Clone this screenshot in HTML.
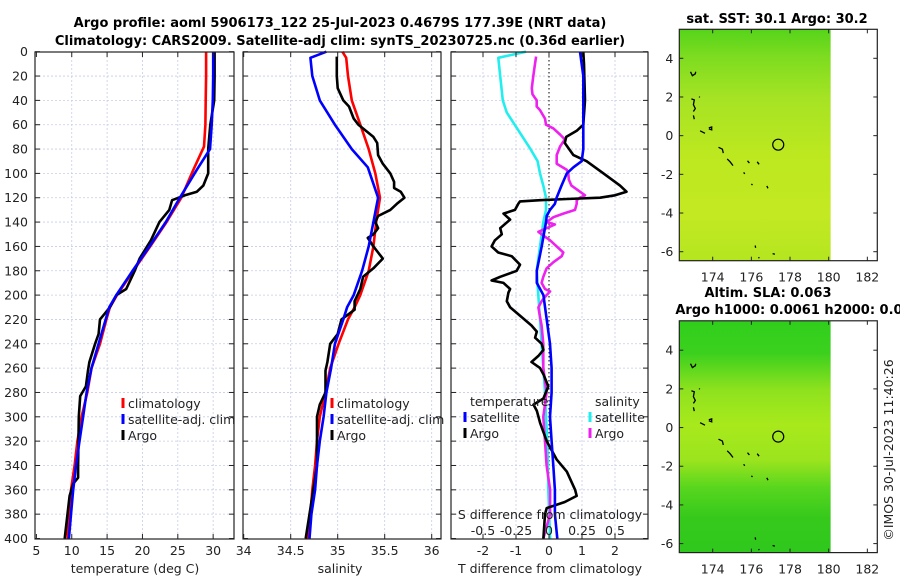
<!DOCTYPE html>
<html><head><meta charset="utf-8">
<style>
html,body{margin:0;padding:0;background:#fff;}
svg{display:block;font-family:"DejaVu Sans","Liberation Sans",sans-serif;}
.t{font-size:12.5px;fill:#222;}
.ttl{font-size:13px;font-weight:bold;fill:#000;}
</style></head>
<body>
<svg id="chart" width="900" height="580" viewBox="0 0 900 580">
<defs>
<linearGradient id="sstGrad" x1="0" y1="0" x2="0" y2="1">
<stop offset="0" stop-color="#55d41a"/><stop offset="0.12" stop-color="#7edc20"/><stop offset="0.3" stop-color="#a6e324"/><stop offset="0.55" stop-color="#bde81f"/><stop offset="0.8" stop-color="#c3e922"/><stop offset="1" stop-color="#b4e620"/>
</linearGradient>
<linearGradient id="slaGrad" x1="0" y1="0" x2="0" y2="1">
<stop offset="0" stop-color="#2fcf1c"/><stop offset="0.14" stop-color="#3cd01e"/><stop offset="0.3" stop-color="#8fe21e"/><stop offset="0.45" stop-color="#a8e91c"/><stop offset="0.6" stop-color="#9ce41e"/><stop offset="0.72" stop-color="#58d61e"/><stop offset="0.85" stop-color="#36c91c"/><stop offset="1" stop-color="#2fc81c"/>
</linearGradient>
</defs>
<text class="ttl" x="340" y="27" text-anchor="middle">Argo profile: aoml 5906173_122 25-Jul-2023 0.4679S 177.39E (NRT data)</text>
<text class="ttl" x="340" y="45" text-anchor="middle">Climatology: CARS2009. Satellite-adj clim: synTS_20230725.nc (0.36d earlier)</text>
<g id="plots"></g>
</svg>
<script>
// ---------- data ----------
const depthTicks = [0,20,40,60,80,100,120,140,160,180,200,220,240,260,280,300,320,340,360,380,400];
const tempTicks = [5,10,15,20,25,30];
const salTicks = [34,34.5,35,35.5,36];
const tdiffTicks = [-2,-1,0,1,2];
const sdiffTicks = [-0.5,-0.25,0,0.25,0.5];
const sdiffLabels = ["-0.5","-0.25","0","0.25","0.5"];

const climTdepth = [0,20,40,60,78,97,120,140,160,180,200,210,220,240,260,280,300,320,340,360,380,400];
const climTvals  = [29.0,29.0,28.95,28.9,28.7,27.2,25.5,23.4,21.1,18.7,16.4,15.4,14.9,14.0,12.8,12.2,11.4,10.8,10.4,9.9,9.6,9.4];
const satTdepth = [0,20,40,60,80,97,120,140,160,180,200,210,220,240,260,280,300,320,340,360,380,400];
const satTvals  = [30.0,30.0,29.95,29.8,29.55,27.7,25.3,23.3,21.0,18.6,16.3,15.3,14.8,13.8,12.8,12.1,11.6,11.1,10.6,10.2,9.9,9.6];
const argoTdepth = [0,20,40,60,80,100,110,115,118,122,130,140,155,170,180,195,200,210,220,232,240,255,262,275,283,300,340,350,355,365,380,400];
const argoTvals  = [30.2,30.2,30.15,29.6,29.3,29.3,28.6,27.7,26.0,24.2,23.8,22.4,21.2,19.6,18.9,17.7,16.3,15.4,14.0,13.8,13.3,12.5,12.3,12.0,11.2,11.0,10.9,10.9,10.2,9.7,9.4,9.0];

const climSdepth = [0,5,20,40,60,80,100,120,140,160,180,200,210,220,240,260,280,300,320,340,360,380,400];
const climSvals  = [35.05,35.09,35.11,35.15,35.24,35.33,35.40,35.45,35.41,35.38,35.33,35.24,35.18,35.11,35.01,34.92,34.87,34.81,34.78,34.76,34.73,34.71,34.68];
const satSdepth = [0,5,20,40,60,80,95,120,140,160,180,200,210,220,240,260,280,300,320,340,360,380,400];
const satSvals  = [34.88,34.71,34.73,34.81,34.97,35.15,35.32,35.43,35.38,35.33,35.26,35.17,35.10,35.06,34.97,34.93,34.88,34.85,34.81,34.78,34.76,34.72,34.70];
const argoSdepth = [4,20,30,40,45,55,60,70,75,85,92,100,107,112,115,120,125,130,135,140,145,150,153,160,165,170,178,185,195,205,212,220,232,240,255,262,280,290,300,340,360,380,400];
const argoSvals  = [34.99,34.99,35.0,35.06,35.12,35.17,35.22,35.38,35.42,35.43,35.48,35.56,35.6,35.6,35.67,35.71,35.63,35.56,35.43,35.4,35.43,35.38,35.32,35.38,35.43,35.48,35.38,35.27,35.24,35.18,35.18,35.04,35.0,34.92,34.89,34.87,34.87,34.81,34.78,34.78,34.74,34.70,34.66];

const satDTdepth = [0,20,60,80,90,95,100,110,120,125,130,135,140,160,180,190,200,220,240,260,280,300,320,340,360,380,400];
const satDTvals  = [0.94,1.04,1.04,1.04,0.99,0.74,0.54,0.38,0.23,0.18,0.03,-0.07,-0.09,-0.22,-0.37,-0.37,-0.17,-0.07,0.03,0.08,0.08,0.03,0.08,0.13,0.18,0.18,0.25];
const argoDTdepth = [0,10,40,60,65,70,75,85,90,100,110,115,118,120,121,122,123,125,130,133,138,145,150,155,160,165,168,175,180,185,188,190,195,198,205,210,225,230,235,240,245,250,255,260,265,275,285,290,295,305,320,335,345,360,365,370,375,380,400];
const argoDTvals  = [1.04,1.06,1.09,1.04,0.84,0.52,0.48,0.74,1.14,1.65,2.15,2.35,2.0,1.55,0.54,-0.27,-0.88,-0.93,-1.03,-1.38,-1.18,-1.48,-1.43,-1.64,-1.74,-1.54,-1.13,-0.88,-0.98,-1.48,-1.74,-1.38,-1.18,-1.23,-1.28,-1.18,-0.53,-0.37,-0.42,-0.22,-0.17,-0.32,-0.53,-0.27,-0.17,-0.02,-0.17,-0.47,-0.37,-0.27,-0.07,0.23,0.54,0.79,0.84,0.48,-0.07,-0.12,-0.17];
const satDSdepth = [0,5,20,40,50,60,80,90,100,110,120,130,140,160,180,200,220,240,260,280,300,320,360,400];
const satDSvals  = [-0.174,-0.384,-0.37,-0.35,-0.32,-0.26,-0.14,-0.086,-0.068,-0.043,-0.023,-0.023,-0.043,-0.068,-0.093,-0.081,-0.068,-0.056,-0.043,-0.03,-0.023,-0.013,-0.005,0.008];
const argoDSdepth = [4,10,20,30,35,40,45,48,55,60,63,68,72,78,85,92,97,100,105,110,115,118,120,122,125,130,133,136,140,142,145,148,150,155,160,165,168,173,178,185,190,195,197,200,205,210,215,225,240,260,280,300,320,340,360,380,400];
const argoDSvals  = [-0.098,-0.106,-0.119,-0.13,-0.125,-0.093,-0.093,-0.068,-0.03,-0.023,0.033,0.083,0.12,0.083,0.058,0.058,0.134,0.146,0.15,0.17,0.235,0.273,0.235,0.21,0.21,0.197,0.108,0.033,-0.018,0.045,-0.018,-0.08,-0.056,0.008,0.058,0.108,0.096,0.033,-0.018,-0.043,-0.056,-0.03,0.008,-0.018,-0.056,-0.08,-0.073,-0.056,-0.043,-0.043,-0.018,-0.043,-0.03,-0.018,0.008,0.008,-0.043];

const lonTicks = [174,176,178,180,182];
const latTicks = [4,2,0,-2,-4,-6];
const argoLon = 177.39, argoLat = -0.4679;
const coastLines = [
 [[172.85,3.3],[172.95,3.1],[173.1,3.2],[173.12,3.3]],
 [[172.9,1.9],[173.05,1.85],[173.0,1.6],[173.1,1.4],[173.0,1.25]],
 [[173.0,1.05],[173.05,0.85]],
 [[173.3,2.02],[173.33,1.98]],
 [[173.35,0.25],[173.6,0.12]],
 [[173.8,0.4],[173.95,0.45],[173.95,0.3],[173.8,0.35]],
 [[174.3,-0.6],[174.5,-0.7],[174.55,-0.9]],
 [[174.75,-1.2],[174.9,-1.35],[175.05,-1.55]],
 [[175.8,-1.3],[175.9,-1.42]],
 [[176.3,-1.35],[176.4,-1.48]],
 [[175.6,-1.9],[175.66,-1.97]],
 [[176.0,-2.5],[176.06,-2.55]],
 [[176.8,-2.6],[176.86,-2.72]],
 [[176.2,-5.68],[176.22,-5.8]],
 [[176.38,-6.28],[176.4,-6.34]],
 [[177.1,-6.1],[177.22,-6.13]]
];

// ---------- helpers ----------
const NS = "http://www.w3.org/2000/svg";
const root = document.getElementById('plots');
function mk(tag, attrs, parent){ const e=document.createElementNS(NS,tag); for(const k in attrs) e.setAttribute(k,attrs[k]); (parent||root).appendChild(e); return e; }
const TOP=52, BOT=539;
const yD = d => 51.7 + d*1.217;

function panel(name, x0, x1, xs, xTicks, xLabels, gridTicks){
  const g = mk('g',{});
  
  
  // grid
  gridTicks.forEach(v=>{ const x=xs(v); const l=mk('line',{x1:x,x2:x,y1:TOP,y2:BOT,stroke:'#c5cde6','stroke-width':0.8,'stroke-dasharray':'2,2'},g);
      });
  depthTicks.forEach(d=>{ if(d===0||d===400) return; const y=yD(d); const l=mk('line',{x1:x0,x2:x1,y1:y,y2:y,stroke:'#c5cde6','stroke-width':0.8,'stroke-dasharray':'2,2'},g);
      });
  return g;
}
function frame(g, x0, x1, xs, xTicks, xLabels, showY){
  const r=mk('rect',{x:x0,y:TOP,width:x1-x0,height:BOT-TOP,fill:'none',stroke:'#222','stroke-width':1.2},g);
   
  depthTicks.forEach(d=>{ const y=yD(d);
    mk('line',{x1:x0,x2:x0+5,y1:y,y2:y,stroke:'#222'},g); mk('line',{x1:x1-5,x2:x1,y1:y,y2:y,stroke:'#222'},g);
    if(showY){ const t=mk('text',{x:x0-7,y:y+4.5,'text-anchor':'end',class:'t'},g); t.textContent=d;
        }
  });
  xTicks.forEach((v,i)=>{ const x=xs(v);
    mk('line',{x1:x,x2:x,y1:TOP,y2:TOP+5,stroke:'#222'},g); mk('line',{x1:x,x2:x,y1:BOT-5,y2:BOT,stroke:'#222'},g);
    const t=mk('text',{x:x,y:555,'text-anchor':'middle',class:'t'},g); t.textContent=xLabels[i];
      });
}
function line(g, depths, vals, xs, color, name, w){
  const pts = depths.map((d,i)=> xs(vals[i]).toFixed(1)+','+yD(d).toFixed(1)).join(' ');
  const p=mk('polyline',{points:pts,fill:'none',stroke:color,'stroke-width':w||2.6,'stroke-linejoin':'round'},g);
  
  
}
function txt(g, x, y, s, name, anchor, cls){
  const t=mk('text',{x:x,y:y,'text-anchor':anchor||'start',class:cls||'t'},g); t.textContent=s;
  
  
  return t;
}
function legendMark(g,x,y,color){ const l=mk('line',{x1:x,x2:x,y1:y-10,y2:y,stroke:color,'stroke-width':3},g);
    }

// ---------- panel 1: temperature ----------
const xT = v => 36.4 + (v-5)*7.07;
const g1 = panel('temperature-panel',35,234,xT,tempTicks,null,[10,15,20,25,30]);
line(g1, climTdepth, climTvals, xT, '#ff0000', 'climatology-temperature-line');
line(g1, argoTdepth, argoTvals, xT, '#000000', 'argo-temperature-line');
line(g1, satTdepth, satTvals, xT, '#0000ff', 'satellite-temperature-line');
frame(g1,35,234,xT,tempTicks,tempTicks.map(String),true);
txt(g1,135,573,'temperature (deg C)','x-axis-title-temperature','middle');
legendMark(g1,123,408,'#ff0000'); txt(g1,128,408,'climatology','legend-climatology');
legendMark(g1,123,424,'#0000ff'); txt(g1,128,424,'satellite-adj. clim','legend-satellite-adj');
legendMark(g1,123,440,'#000000'); txt(g1,128,440,'Argo','legend-argo');

// ---------- panel 2: salinity ----------
const xS = v => 243.7 + (v-34)*94;
const g2 = panel('salinity-panel',243,441,xS,salTicks,null,[34.5,35,35.5,36]);
line(g2, climSdepth, climSvals, xS, '#ff0000', 'climatology-salinity-line');
line(g2, argoSdepth, argoSvals, xS, '#000000', 'argo-salinity-line');
line(g2, satSdepth, satSvals, xS, '#0000ff', 'satellite-salinity-line');
frame(g2,243,441,xS,salTicks,salTicks.map(String),false);
txt(g2,340,573,'salinity','x-axis-title-salinity','middle');
legendMark(g2,332,408,'#ff0000'); txt(g2,337,408,'climatology','legend-climatology-2');
legendMark(g2,332,424,'#0000ff'); txt(g2,337,424,'satellite-adj. clim','legend-satellite-adj-2');
legendMark(g2,332,440,'#000000'); txt(g2,337,440,'Argo','legend-argo-2');

// ---------- panel 3: differences ----------
const xDT = v => 549 + v*33;
const xDS = v => 549 + v*132;
const g3 = panel('difference-panel',451,648,xDT,tdiffTicks,null,[-2,-1,1,2]);
const z=mk('line',{x1:549,x2:549,y1:TOP,y2:BOT,stroke:'#000','stroke-width':1,'stroke-dasharray':'1.5,2.5'},g3);
 
line(g3, satDSdepth, satDSvals, xDS, '#22eeee', 'satellite-salinity-diff-line');
line(g3, argoDSdepth, argoDSvals, xDS, '#ee22ee', 'argo-salinity-diff-line');
line(g3, argoDTdepth, argoDTvals, xDT, '#000000', 'argo-temperature-diff-line');
line(g3, satDTdepth, satDTvals, xDT, '#0000ff', 'satellite-temperature-diff-line');
frame(g3,451,648,xDT,tdiffTicks,tdiffTicks.map(String),false);
txt(g3,550,573,'T difference from climatology','x-axis-title-tdiff','middle');
txt(g3,470,406,'temperature','legend-temperature-heading');
txt(g3,595,406,'salinity','legend-salinity-heading');
legendMark(g3,465,422,'#0000ff'); txt(g3,470,422,'satellite','legend-temp-satellite');
legendMark(g3,465,438,'#000000'); txt(g3,470,438,'Argo','legend-temp-argo');
legendMark(g3,590,422,'#22eeee'); txt(g3,595,422,'satellite','legend-sal-satellite');
legendMark(g3,590,438,'#ee22ee'); txt(g3,595,438,'Argo','legend-sal-argo');
txt(g3,550,519,'S difference from climatology','s-axis-title','middle');
sdiffTicks.forEach((v,i)=>{ txt(g3,xDS(v),535,sdiffLabels[i],'s-tick-label','middle'); });

// ---------- maps ----------
function map(name, top, bottom, lat4y, fill, titles){
  const g = mk('g',{});
  
  
  const L=679.3,R=877.3;
  const mx = lon => 712.7 + (lon-174)*19.33;
  const my = lat => lat4y + (4-lat)*19.34;
  const bg=mk('rect',{x:L,y:top,width:mx(180.1)-L,height:bottom-top,fill:fill},g);
   
  coastLines.forEach(seg=>{ const p=mk('polyline',{points:seg.map(q=>mx(q[0]).toFixed(1)+','+my(q[1]).toFixed(1)).join(' '),fill:'none',stroke:'#000','stroke-width':1.3},g);
      });
  const c=mk('circle',{cx:mx(argoLon),cy:my(argoLat),r:5.5,fill:'none',stroke:'#000','stroke-width':1.2},g);
   
  const fr=mk('rect',{x:L,y:top,width:R-L,height:bottom-top,fill:'none',stroke:'#222','stroke-width':1.2},g);
   
  lonTicks.forEach(v=>{ const x=mx(v);
    mk('line',{x1:x,x2:x,y1:bottom-4,y2:bottom,stroke:'#222'},g); mk('line',{x1:x,x2:x,y1:top,y2:top+4,stroke:'#222'},g);
    txt(g,x,bottom+21,String(v),'lon-tick-label','middle'); });
  latTicks.forEach(v=>{ const y=my(v);
    mk('line',{x1:L,x2:L+4,y1:y,y2:y,stroke:'#222'},g); mk('line',{x1:R-4,x2:R,y1:y,y2:y,stroke:'#222'},g);
    txt(g,L-6,y+4.5,String(v),'lat-tick-label','end'); });
  titles.forEach(t=>txt(g,t[1],t[2],t[0],'map-title','middle','ttl'));
}
map('sst-map',29.3,260.7,58.3,'url(#sstGrad)',[['sat. SST: 30.1 Argo: 30.2',777,23]]);
map('sla-map',320.8,552.6,350.2,'url(#slaGrad)',[['Altim. SLA: 0.063',768,297],['Argo h1000: 0.0061 h2000: 0.016',798,314]]);
const cp=mk('text',{x:0,y:0,class:'t',transform:'translate(893,450) rotate(-90)','text-anchor':'middle'});
cp.textContent='©IMOS 30-Jul-2023 11:40:26';


</script>
</body></html>
